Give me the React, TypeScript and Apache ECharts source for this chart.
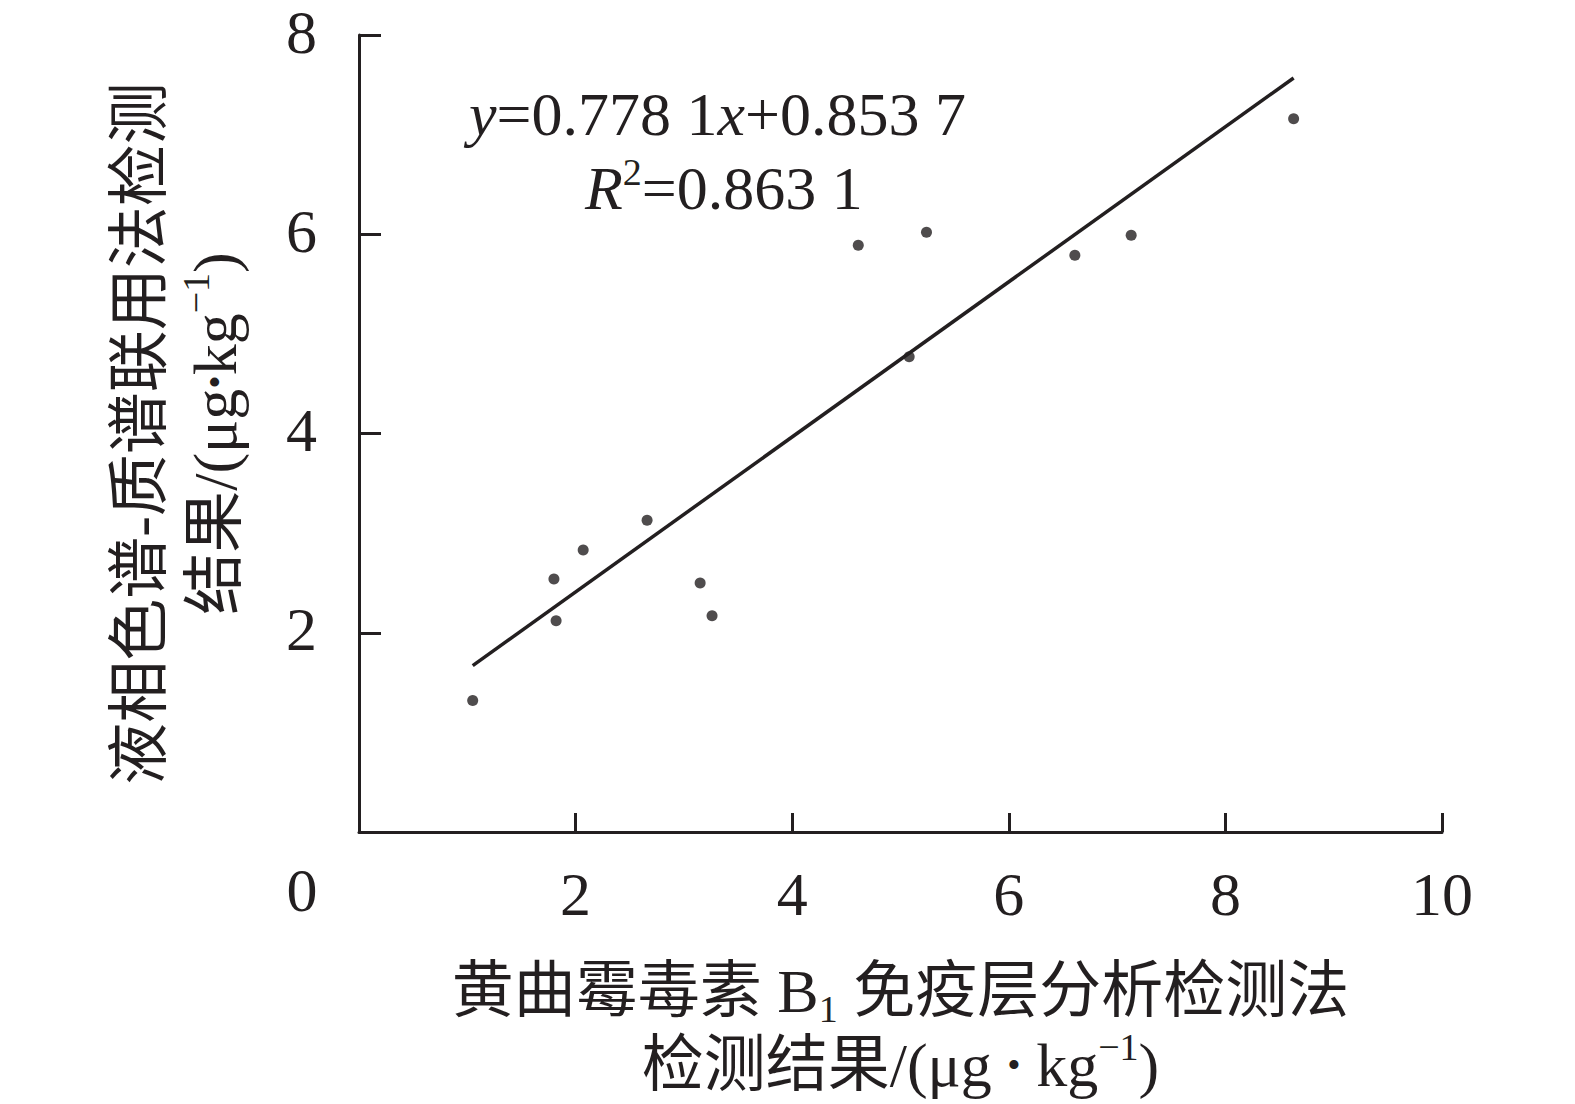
import React, { useEffect, useRef } from "react";
import * as echarts from "echarts";

const xValues = [1.05, 1.8, 1.82, 2.07, 2.66, 3.15, 3.26, 4.61, 5.08, 5.24, 6.61, 7.13, 8.63];
const yValues = [1.32, 2.54, 2.12, 2.83, 3.13, 2.5, 2.17, 5.89, 4.77, 6.02, 5.79, 5.99, 7.16];
const slope = 0.7781;
const intercept = 0.8537;
const fitRange = [1.05, 8.63];
const xTicks = [0, 2, 4, 6, 8, 10];
const yTicks = [0, 2, 4, 6, 8];

const INK = "#231f20";
const FONT = "'Liberation Serif', 'Times New Roman', 'Noto Sans CJK SC', serif";
const FS = 62;

export default function App() {
  const ref = useRef<HTMLDivElement>(null);
  useEffect(() => {
    document.body.style.margin = "0";
    const chart = echarts.init(ref.current!, null, { renderer: "svg" });
    const points = xValues.map((x, i) => [x, yValues[i]]);
    const fit = fitRange.map((x) => [x, slope * x + intercept]);
    const base = { fontFamily: FONT, fontSize: FS, color: INK };
    const dot = { fontFamily: FONT, fontSize: 38, color: INK };
    chart.setOption({
      animation: false,
      backgroundColor: "#fff",
      grid: {
        left: 359,
        right: 133,
        top: 35,
        bottom: 272,
        containLabel: false,
        outerBoundsMode: "none",
      },
      xAxis: {
        type: "value",
        min: xTicks[0],
        max: xTicks[xTicks.length - 1],
        interval: 2,
        splitLine: { show: false },
        axisLine: { lineStyle: { color: INK, width: 3 } },
        axisTick: { inside: true, length: 19, lineStyle: { color: INK, width: 3 } },
        axisLabel: { showMinLabel: false, margin: 31, ...base },
        name: "{a|黄曲霉毒素 B}{sub|1}{a| 免疫层分析检测法}\n{a|检测结果/(μg }{d|•}{a| kg}{sup|−1}{a|)}",
        nameLocation: "middle",
        nameGap: 122,
        nameTextStyle: {
          ...base,
          lineHeight: 74,
          rich: {
            a: { ...base, lineHeight: 74 },
            d: { ...dot, lineHeight: 74 },
            sub: { fontFamily: FONT, fontSize: 38, color: INK, verticalAlign: "bottom", lineHeight: 74 },
            sup: { fontFamily: FONT, fontSize: 38, color: INK, verticalAlign: "top", lineHeight: 54 },
          },
        },
      },
      yAxis: {
        type: "value",
        min: yTicks[0],
        max: yTicks[yTicks.length - 1],
        interval: 2,
        splitLine: { show: false },
        axisLine: { show: true, lineStyle: { color: INK, width: 3 } },
        axisTick: { show: true, inside: true, length: 22, lineStyle: { color: INK, width: 3 } },
        axisLabel: {
          showMinLabel: false,
          margin: 42,
          formatter: (v: number) => `{v|${v}}`,
          rich: { v: { ...base, lineHeight: 40, padding: [0, 0, 7, 0] } },
          ...base,
        },
        name: "{a|液相色谱-质谱联用法检测}\n{a|结果/(μg}{d|•}{a|kg}{sup|−1}{a|)}",
        nameLocation: "middle",
        nameGap: 107,
        nameRotate: 90,
        nameTextStyle: {
          ...base,
          lineHeight: 75,
          rich: {
            a: { ...base, lineHeight: 75 },
            d: { ...dot, lineHeight: 75 },
            sup: { fontFamily: FONT, fontSize: 38, color: INK, verticalAlign: "top", lineHeight: 56 },
          },
        },
      },
      graphic: [
        {
          type: "text",
          x: 302,
          y: 890,
          style: { text: "0", fill: INK, font: `${FS}px ${FONT}`, align: "center", verticalAlign: "middle" },
        },
        {
          type: "text",
          x: 469,
          y: 114,
          style: {
            text: "{i|y}{n|=0.778 1}{i|x}{n|+0.853 7}",
            align: "left",
            verticalAlign: "middle",
            rich: {
              i: { fontFamily: FONT, fontSize: FS, fontStyle: "italic", fill: INK },
              n: { fontFamily: FONT, fontSize: FS, fill: INK },
            },
          },
        },
        {
          type: "text",
          x: 585,
          y: 188,
          style: {
            text: "{i|R}{s|2}{n|=0.863 1}",
            align: "left",
            verticalAlign: "middle",
            rich: {
              i: { fontFamily: FONT, fontSize: FS, fontStyle: "italic", fill: INK, lineHeight: 70 },
              s: { fontFamily: FONT, fontSize: 38, fill: INK, verticalAlign: "top", lineHeight: 50 },
              n: { fontFamily: FONT, fontSize: FS, fill: INK, lineHeight: 70 },
            },
          },
        },
      ],
      series: [
        {
          type: "line",
          data: fit,
          symbol: "none",
          lineStyle: { color: INK, width: 3.5 },
          silent: true,
        },
        {
          type: "scatter",
          data: points,
          symbol: "circle",
          symbolSize: 11,
          itemStyle: { color: INK },
        },
      ],
    });
    return () => chart.dispose();
  }, []);
  return <div ref={ref} style={{ width: 1575, height: 1104 }} />;
}
